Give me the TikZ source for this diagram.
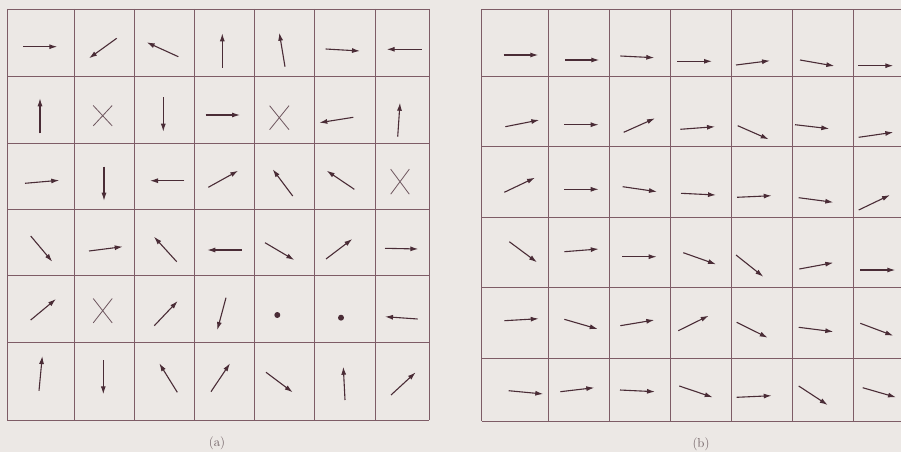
\documentclass[tikz,border=0pt]{standalone}
\usetikzlibrary{arrows.meta}
\definecolor{bgc}{HTML}{ECE8E5}
\definecolor{gridc}{HTML}{7E5C66}
\definecolor{arrc}{HTML}{4A2C36}
\definecolor{labc}{HTML}{6E5E62}
\tikzset{
  gridline/.style={draw=gridc,line width=0.9pt},
  vec/.style={draw=arrc,line width=1.1pt,-{Latex[length=8pt,width=5pt]}},
  cross/.style={draw=arrc!80,line width=0.8pt},
  dotmark/.style={fill=arrc},
  sublabel/.style={text=labc,font=\fontsize{13}{15}\selectfont}
}
\begin{document}
\begin{tikzpicture}[x=1pt,y=-1pt]
\fill[bgc] (0,0) rectangle (901,452);
\useasboundingbox (0,0) rectangle (901,452);
\clip (0,0) rectangle (901,452);
% grid (a)
\foreach \x in {7.3,74,134,194,254,314,375,429} \draw[gridline] (\x,9) -- (\x,420);
\foreach \y in {9,76,143,209,275,342,420} \draw[gridline] (7.3,\y) -- (429,\y);
% grid (b)
\foreach \x in {481.7,548.3,609,670,731,792,853.3} \draw[gridline] (\x,9.3) -- (\x,421);
\foreach \y in {9.3,76,146.7,217.3,287.3,358.3,421} \draw[gridline] (481.7,\y) -- (905,\y);
% arrows (a)
\foreach \a/\b/\c/\d in {
 23.3/46.7/57.3/46.7, 116.7/38.3/89/58.3, 178.3/56.7/146.7/42.3, 222.3/67.7/222.3/33.3,
 285/66.7/279.3/32.7, 325.7/49/360/51, 421.7/49.3/386.7/49.3,
 40/133.3/40/98.3, 163.3/97.3/163.3/131.7, 205.7/115/240/115, 353.3/117.3/319.3/122.7,
 397.7/136.7/400/102.7,
 25/183.3/59.3/180.3, 104/166.7/104/200.7, 184.3/180.7/150/180.7, 208.3/187.3/238.3/170.7,
 292.7/196/272.7/169.3, 354.3/189.3/326.7/170.7,
 30.7/236/52.3/261.7, 89/251/122.7/246.7, 176.7/261.7/154/236.7, 241.7/250/207.3/250,
 265/242.7/294.3/260, 326/259/352.3/239, 385/248.3/418.3/249,
 30.7/320/56/299, 154.3/325.7/177.7/301, 226/297.7/217.3/330, 417.7/319/385/316.7,
 39/390.7/42.3/356, 103.3/360/103.3/394.3, 177.3/392.3/159.3/363.3, 211/391.7/230/363.3,
 266/372.3/292.7/392.3, 345/400/343.3/366.7, 391/395/415.7/372.3}
 \draw[vec] (\a,\b) -- (\c,\d);
% crosses (a)
\foreach \cx/\cy/\hw/\hh in {102.7/115.7/9.5/10.2, 279.3/117.7/9.7/12, 400/181.7/9.3/12.5, 102.7/310.7/9.5/12.2}
 \draw[cross] (\cx-\hw,\cy-\hh) -- (\cx+\hw,\cy+\hh) (\cx-\hw,\cy+\hh) -- (\cx+\hw,\cy-\hh);
% dots (a)
\fill[dotmark] (277.3,315) circle (3pt);
\fill[dotmark] (341,317.7) circle (3pt);
% arrows (b)
\foreach \a/\b/\c/\d in {
 503.7/55/538.3/55, 565/60/599.3/60, 620.3/56/654.3/57.7, 677/61.3/712/61.3,
 736/65/770/60.7, 800/60/834.3/66, 858.3/65.7/893.3/65.7,
 505.3/126.7/539.3/120, 564.3/124.7/598.7/124.7, 623.7/132.3/655/118.3, 680.3/129.3/715/126.7,
 737.7/125.7/768.7/139.3, 795/124.7/829.3/128.7, 858.7/137.3/893.3/132.3,
 504.3/192.3/535/177.7, 564.3/189.3/598.7/189.3, 622.7/186.7/657/191.7, 681/193.3/716/195,
 737/197.3/771.7/195.7, 798.7/197.7/833.3/202.3, 858.7/210/890/195,
 509.3/241.7/537/262.3, 564.3/251.7/598.7/249, 622/256.7/656.7/256.7, 683.3/252.7/716/264.3,
 736/255/763.3/276.7, 799.3/269/833.3/262.7, 860.3/270/895.3/270,
 504.3/320.7/538.7/318.7, 564.3/319.3/597.7/329, 620.3/325.7/654.3/320, 678.3/330.7/708.7/315.7,
 736.7/322.3/767.7/337.7, 798.7/327.3/833.3/331.7, 860.3/323.3/893.3/335.7,
 508.7/390.7/543.3/394, 560.3/391.7/594.3/387.7, 620/390/655/391.7, 679.3/386/712.7/397.3,
 736.7/397.3/771.7/395.7, 798.7/386/827.7/405, 862.7/387.7/896/397.3}
 \draw[vec] (\a,\b) -- (\c,\d);
% labels
\node[sublabel] (la) at (217,443) {(a)};
\node[sublabel] (lb) at (701,444) {(b)};
\end{tikzpicture}
\end{document}
